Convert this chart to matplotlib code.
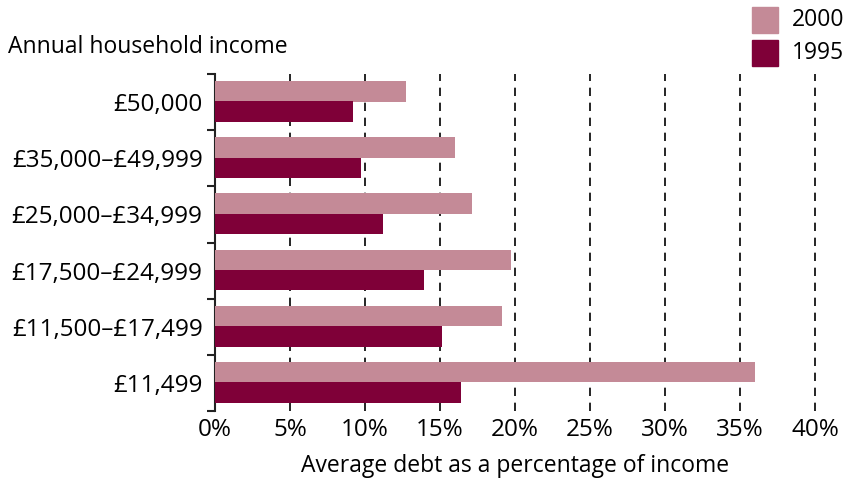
import matplotlib.pyplot as plt
from matplotlib.patches import Rectangle
import numpy as np

plt.rcParams['font.family'] = ['Open Sans', 'DejaVu Sans']

# bottom to top
incomes = ['£11,499', '£11,500–£17,499', '£17,500–£24,999',
           '£25,000–£34,999', '£35,000–£49,999', '£50,000']
debt_2000 = [36.0, 19.1, 19.7, 17.1, 16.0, 12.7]
debt_1995 = [16.4, 15.1, 13.9, 11.2, 9.7, 9.2]
xticks = [0, 5, 10, 15, 20, 25, 30, 35, 40]

c2000 = '#C48A97'
c1995 = '#7F0038'

fig = plt.figure(figsize=(8.47, 4.83), dpi=100)
ax = fig.add_axes([215 / 847, 1 - 411 / 483, 600 / 847, 337 / 483])

pos = np.arange(len(incomes))
h = 0.365
ax.barh(pos + 0.19, debt_2000, height=h, color=c2000, zorder=3)
ax.barh(pos - 0.17, debt_1995, height=h, color=c1995, zorder=3)

ax.set_xlim(0, 40)
ax.set_ylim(-0.5, len(incomes) - 0.5)

for x in xticks[1:]:
    ax.axvline(x, color='black', linestyle=(0, (5, 4)), linewidth=1.2,
               zorder=1, clip_on=False)

ax.set_xticks(xticks)
ax.set_xticklabels([f'{x}%' for x in xticks], fontsize=17.5)
ax.tick_params(axis='x', length=0, pad=5)

ax.set_yticks(pos)
ax.set_yticklabels(incomes, fontsize=17.5)
ax.tick_params(axis='y', which='major', length=0, pad=9)
ax.set_yticks(np.arange(-0.5, len(incomes)), minor=True)
ax.tick_params(axis='y', which='minor', length=6, width=1.5, color='#222222')

for s in ['top', 'right', 'bottom']:
    ax.spines[s].set_visible(False)
ax.spines['left'].set_linewidth(1.5)
ax.spines['left'].set_color('#222222')

ax.set_xlabel('Average debt as a percentage of income', fontsize=16.5, labelpad=9)

fig.text(8 / 847, 1 - 47 / 483, 'Annual household income', fontsize=16.5,
         ha='left', va='center')

# legend
for i, (lab, col) in enumerate([('2000', c2000), ('1995', c1995)]):
    y0 = 7 + i * 33
    fig.add_artist(Rectangle((752 / 847, 1 - (y0 + 26) / 483), 26 / 847, 26 / 483,
                             transform=fig.transFigure, color=col))
    fig.text(792 / 847, 1 - (y0 + 13) / 483, lab, fontsize=16.5, ha='left', va='center')

fig.savefig('out.png', dpi=100)
